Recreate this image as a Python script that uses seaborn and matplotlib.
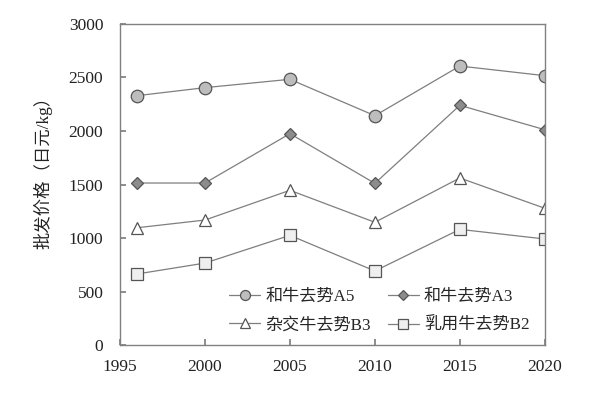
import matplotlib
matplotlib.use("Agg")
import matplotlib.pyplot as plt
import seaborn as sns
import pandas as pd

years = [1996, 2000, 2005, 2010, 2015, 2020]
a5 = [2330, 2405, 2483, 2143, 2607, 2517]
a3 = [1514, 1514, 1975, 1511, 2240, 2012]
b3 = [1096, 1168, 1446, 1147, 1561, 1278]
b2 = [664, 766, 1025, 692, 1081, 991]
series_names = ["和牛去势A5", "和牛去势A3", "杂交牛去势B3", "乳用牛去势B2"]
x_ticks = [1995, 2000, 2005, 2010, 2015, 2020]
y_ticks = [0, 500, 1000, 1500, 2000, 2500, 3000]
ylabel = "批发价格（日元/kg）"

sns.set_theme(style="ticks")
plt.rcParams["font.family"] = ["Liberation Serif", "Noto Sans CJK SC", "DejaVu Sans"]

fig = plt.figure(figsize=(6, 3.93), dpi=100)
ax = fig.add_axes([0.2, 0.122, 0.708, 0.817])

styles = [
    dict(marker="o", markerfacecolor="#bdbdbd", markersize=9),
    dict(marker="D", markerfacecolor="#8c8c8c", markersize=6.5),
    dict(marker="^", markerfacecolor="white", markersize=9),
    dict(marker="s", markerfacecolor="#efefef", markersize=9),
]
for name, vals, st in zip(series_names, [a5, a3, b3, b2], styles):
    df = pd.DataFrame({"year": years, "price": vals})
    sns.lineplot(data=df, x="year", y="price", ax=ax, color="#7f7f7f",
                 linewidth=0.9, markeredgecolor="#555555", markeredgewidth=0.9,
                 label=name, **st)

ax.set_xlim(1995, 2020)
ax.set_ylim(0, 3000)
ax.set_xticks(x_ticks)
ax.set_yticks(y_ticks)
ax.set_xlabel("")
ax.set_ylabel(ylabel, fontsize=12.5, color="#222222")
ax.yaxis.set_label_coords(-0.158, 0.55)
ax.tick_params(direction="in", length=4, color="#808080", labelsize=12.5, labelcolor="#222222")
ax.tick_params(axis="y", pad=12)
ax.tick_params(axis="x", pad=10)
for s in ax.spines.values():
    s.set_color("#808080")
    s.set_linewidth(1.0)

handles, labels = ax.get_legend_handles_labels()
order = [0, 2, 1, 3]
ax.legend([handles[i] for i in order], [labels[i] for i in order],
          ncol=2, loc="lower right", bbox_to_anchor=(1.0, -0.012), frameon=False,
          fontsize=12.3, handlelength=1.8, columnspacing=1.0, labelspacing=0.75,
          handletextpad=0.3, markerscale=0.8)

fig.savefig("out.png", dpi=100)
